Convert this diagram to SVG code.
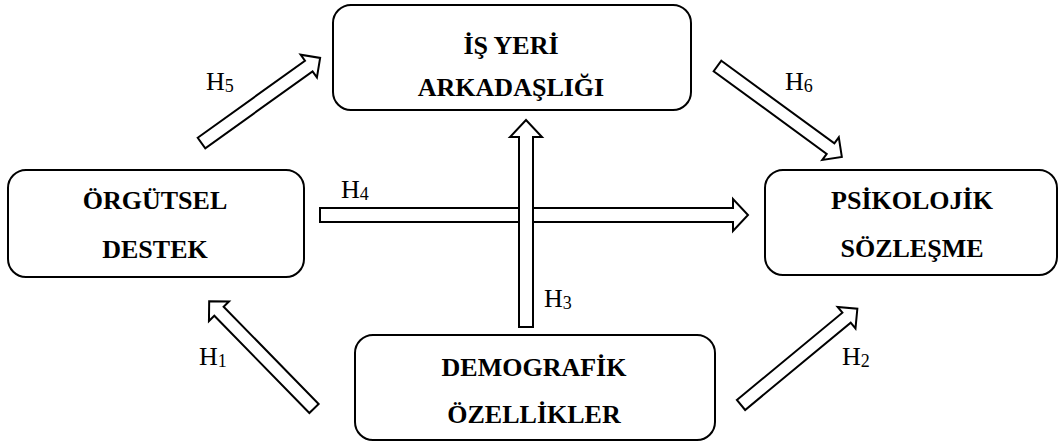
<svg xmlns="http://www.w3.org/2000/svg" width="1061" height="443" viewBox="0 0 1061 443">
<style>
.box{fill:#fff;stroke:#000;stroke-width:2}
.arr{fill:#fff;stroke:#000;stroke-width:2;stroke-linejoin:miter}
.nt{font-family:"Liberation Serif","Times New Roman",serif;font-weight:bold;font-size:26px;text-anchor:middle;fill:#000}
.lb{font-family:"Liberation Serif","Times New Roman",serif;font-size:26px;fill:#000}
.sb{font-size:18px}
</style>
<rect width="1061" height="443" fill="#fff"/>
<g id="connectors">
<g id="H5"><polygon class="arr" transform="translate(201.5,143) rotate(-35.65)" points="0,-6.5 132,-6.5 132,-14 146,0 132,14 132,6.5 0,6.5"/><text class="lb" x="206" y="90">H<tspan class="sb" dy="2">5</tspan></text></g>
<g id="H6"><polygon class="arr" transform="translate(717.5,66) rotate(36.16)" points="0,-6.5 140,-6.5 140,-14 154,0 140,14 140,6.5 0,6.5"/><text class="lb" x="785" y="90">H<tspan class="sb" dy="2">6</tspan></text></g>
<g id="H1"><polygon class="arr" transform="translate(314,408.5) rotate(-134.33)" points="0,-6.5 136,-6.5 136,-14 150,0 136,14 136,6.5 0,6.5"/><text class="lb" x="199" y="365">H<tspan class="sb" dy="2">1</tspan></text></g>
<g id="H2"><polygon class="arr" transform="translate(741,405) rotate(-39.6)" points="0,-6.5 137,-6.5 137,-14 151,0 137,14 137,6.5 0,6.5"/><text class="lb" x="842" y="365">H<tspan class="sb" dy="2">2</tspan></text></g>
<g id="H4"><polygon class="arr" points="320,208 733,208 733,199 748,215 733,231 733,222 320,222"/><text class="lb" x="341" y="198">H<tspan class="sb" dy="2">4</tspan></text></g>
<g id="H3"><polygon class="arr" points="519,327 519,137 510,137 526,120 542,137 533,137 533,327"/><text class="lb" x="544" y="307">H<tspan class="sb" dy="2">3</tspan></text></g>
</g>
<g id="isyeri"><rect class="box" x="333" y="5" width="358" height="105" rx="18"/><text class="nt" x="511" y="54">İŞ YERİ</text><text class="nt" x="511" y="96">ARKADAŞLIĞI</text></g>
<g id="orgutsel"><rect class="box" x="8" y="170" width="296" height="107" rx="18"/><text class="nt" x="155" y="209">ÖRGÜTSEL</text><text class="nt" x="155" y="258">DESTEK</text></g>
<g id="psikolojik"><rect class="box" x="765" y="170" width="292" height="105" rx="18"/><text class="nt" x="912" y="209">PSİKOLOJİK</text><text class="nt" x="912" y="257">SÖZLEŞME</text></g>
<g id="demografik"><rect class="box" x="355" y="335" width="360" height="105" rx="18"/><text class="nt" x="534" y="376">DEMOGRAFİK</text><text class="nt" x="534" y="423">ÖZELLİKLER</text></g>
</svg>
